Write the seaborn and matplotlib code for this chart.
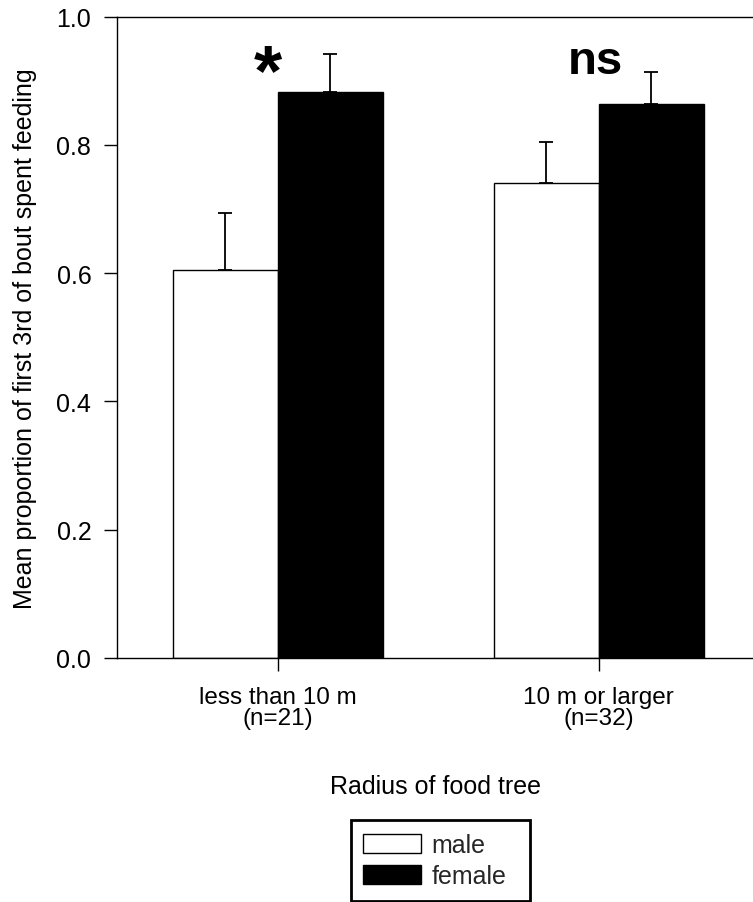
import numpy as np
import pandas as pd
import matplotlib
matplotlib.use("Agg")
import matplotlib.pyplot as plt
from matplotlib.patches import Patch, Rectangle
import seaborn as sns

# ---- data ----
categories = ["less than 10 m\n(n=21)", "10 m or larger\n(n=32)"]
sexes = ["male", "female"]
male_means = [0.605, 0.740]
female_means = [0.882, 0.863]
male_se = [0.089, 0.065]
female_se = [0.059, 0.050]
annotations = ["*", "ns"]
y_ticks = [0.0, 0.2, 0.4, 0.6, 0.8, 1.0]

df = pd.DataFrame({
    "radius": categories * 2,
    "sex": [sexes[0]] * 2 + [sexes[1]] * 2,
    "mean": male_means + female_means,
    "se": male_se + female_se,
})

sns.set_theme(style="white")
plt.rcParams["font.family"] = ["Liberation Sans", "DejaVu Sans"]
FS = 18

fig = plt.figure(figsize=(7.53, 9.03), dpi=100)
ax = fig.add_axes([117 / 753, 244 / 903, 636 / 753, 641.5 / 903])

sns.barplot(data=df, x="radius", y="mean", hue="sex", hue_order=sexes,
            order=categories, palette={"male": "white", "female": "black"},
            edgecolor="black", linewidth=1.0, width=0.654, errorbar=None,
            legend=False, ax=ax)

# one-sided (upper) error bars, positioned on seaborn's own bars
for p in ax.patches:
    h = p.get_height()
    row = df[np.isclose(df["mean"], h)]
    if row.empty:
        continue
    xc = p.get_x() + p.get_width() / 2
    se = row["se"].iloc[0]
    ax.errorbar([xc], [h], yerr=[[0], [se]], fmt="none", ecolor="black",
                elinewidth=1.3, capsize=4.7, capthick=1.3, zorder=5)

ax.set_xlim(-0.5, 1.48)
ax.set_ylim(0, 1.0)
ax.set_yticks(y_ticks)
ax.set_yticklabels([f"{t:.1f}" for t in y_ticks])

for s in ["left", "top", "bottom"]:
    ax.spines[s].set_visible(True)
    ax.spines[s].set_color("black")
    ax.spines[s].set_linewidth(1.0)
ax.spines["right"].set_visible(False)

ax.tick_params(axis="both", direction="out", length=9.5, width=1.0,
               color="black", labelsize=FS, labelcolor="black")
ax.tick_params(axis="y", left=True, pad=9)
ax.tick_params(axis="x", bottom=True, pad=11, labelsize=17.5)
plt.setp(ax.get_xticklabels(), linespacing=0.92)

ax.set_ylabel("Mean proportion of first 3rd of bout spent feeding",
              fontsize=FS, color="black", labelpad=14)
ax.set_xlabel("Radius of food tree", fontsize=FS, color="black", labelpad=32)

# significance annotations
ax.text(-0.03, 0.908, annotations[0], fontsize=52, fontweight="bold",
        ha="center", va="center", color="black")
ax.text(0.99, 0.930, annotations[1], fontsize=34, fontweight="bold",
        ha="center", va="center", color="black")

# legend
handles = [Patch(facecolor="white", edgecolor="black", linewidth=1.0),
           Patch(facecolor="black", edgecolor="black", linewidth=1.0)]
fig.legend(handles, sexes, loc="upper left",
           bbox_to_anchor=(363 / 753, (903 - 834) / 903), frameon=False,
           fontsize=FS, borderpad=0, borderaxespad=0, handlelength=2.3,
           handleheight=0.8, handletextpad=0.45, labelspacing=0.3)
fig.patches.append(Rectangle((351 / 753, 1.5 / 903), 179 / 753, 81 / 903,
                             transform=fig.transFigure, fill=False,
                             edgecolor="black", linewidth=2.0))

fig.savefig("out.png", dpi=100, facecolor="white")
